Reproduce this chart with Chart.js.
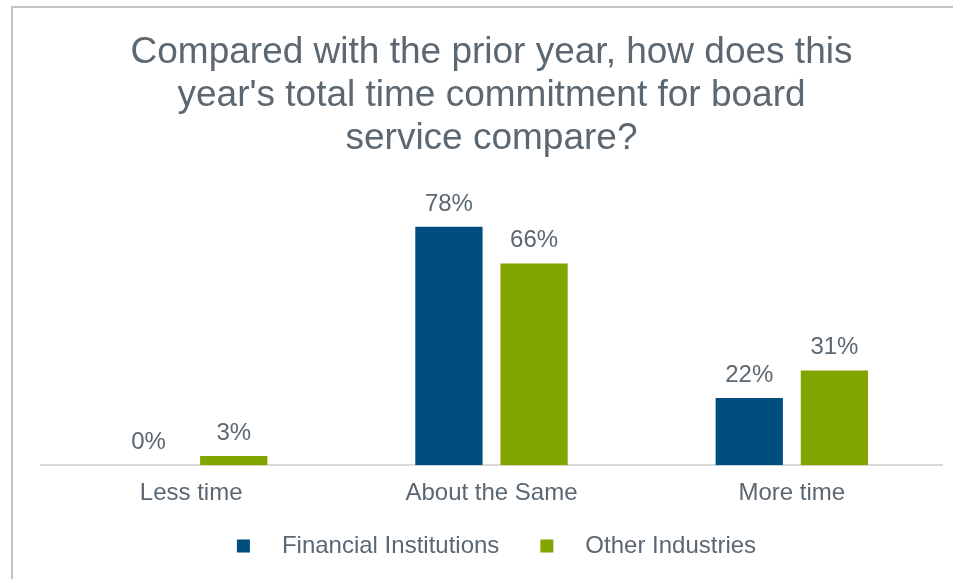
<!DOCTYPE html>
<html>
<head>
<meta charset="utf-8">
<script src="https://cdn.jsdelivr.net/npm/chart.js@4/dist/chart.umd.min.js"></script>
<style>
    html, body { margin: 0; padding: 0; background: #ffffff; overflow: hidden; }
    #frame { position: absolute; left: 11px; top: 6px; width: 1200px; height: 900px; border: 2px solid #c4c4c4; }
    #wrap { position: absolute; left: 0; top: 0; width: 953px; height: 579px; }
</style>
</head>
<body>
<div id="frame"></div>
<div id="wrap"><canvas id="chart"></canvas></div>
<script>
const categories = ["Less time", "About the Same", "More time"];
const financialInstitutions = [0, 78, 22];
const otherIndustries = [3, 66, 31];
const seriesNames = ["Financial Institutions", "Other Industries"];
const seriesColors = ["#004e7e", "#82a500"];

const textColor = "#5b6771";
const fontFamily = "'Liberation Sans', Arial, sans-serif";

// percent labels above each bar
const valueLabels = {
    id: "valueLabels",
    afterDatasetsDraw(chart) {
        const ctx = chart.ctx;
        ctx.save();
        ctx.font = "24px " + fontFamily;
        ctx.fillStyle = textColor;
        ctx.textAlign = "center";
        ctx.textBaseline = "alphabetic";
        chart.data.datasets.forEach((ds, i) => {
            chart.getDatasetMeta(i).data.forEach((bar, j) => {
                ctx.fillText(ds.data[j] + "%", bar.x, bar.y - 16);
            });
        });
        ctx.restore();
    }
};

// legend row under the axis: small square, wide gap, then the name
const squareLegend = {
    id: "squareLegend",
    afterDraw(chart) {
        const ctx = chart.ctx;
        const box = 13, boxGap = 32, itemGap = 41, y = 546;
        ctx.save();
        ctx.font = "24px " + fontFamily;
        ctx.textBaseline = "middle";
        ctx.textAlign = "left";
        const items = chart.data.datasets.map((ds) => ({
            text: ds.label,
            color: ds.backgroundColor,
            width: box + boxGap + ctx.measureText(ds.label).width
        }));
        const total = items.reduce((s, it) => s + it.width, 0) + itemGap * (items.length - 1);
        const area = chart.chartArea;
        let x = (area.left + area.right) / 2 + 5 - total / 2;
        items.forEach((it) => {
            ctx.fillStyle = it.color;
            ctx.fillRect(x, y - 6.5, box, box);
            ctx.fillStyle = textColor;
            ctx.fillText(it.text, x + box + boxGap, y);
            x += it.width + itemGap;
        });
        ctx.restore();
    }
};

const ctx = document.getElementById("chart").getContext("2d");
const chart = new Chart(ctx, {
    type: "bar",
    data: {
        labels: categories,
        datasets: [
            {
                label: seriesNames[0],
                data: financialInstitutions,
                backgroundColor: seriesColors[0],
                categoryPercentage: 0.567,
                barPercentage: 0.79
            },
            {
                label: seriesNames[1],
                data: otherIndustries,
                backgroundColor: seriesColors[1],
                categoryPercentage: 0.567,
                barPercentage: 0.79
            }
        ]
    },
    options: {
        responsive: true,
        maintainAspectRatio: false,
        animation: false,
        layout: { padding: { left: 41, right: 11, top: 31, bottom: 57 } },
        scales: {
            x: {
                grid: { display: false, drawTicks: false },
                border: { display: true, color: "#d9d9d9", width: 2 },
                ticks: { color: textColor, font: { family: fontFamily, size: 24 }, padding: 14 }
            },
            y: {
                display: false,
                min: 0,
                max: 95
            }
        },
        plugins: {
            title: {
                display: true,
                text: [
                    "Compared with the prior year, how does this",
                    "year's total time commitment for board",
                    "service compare?"
                ],
                color: textColor,
                font: { family: fontFamily, size: 37, weight: "normal", lineHeight: 1.17 },
                padding: { top: 0, bottom: 14 }
            },
            legend: { display: false },
            tooltip: { enabled: false }
        }
    },
    plugins: [valueLabels, squareLegend]
});
</script>
</body>
</html>
